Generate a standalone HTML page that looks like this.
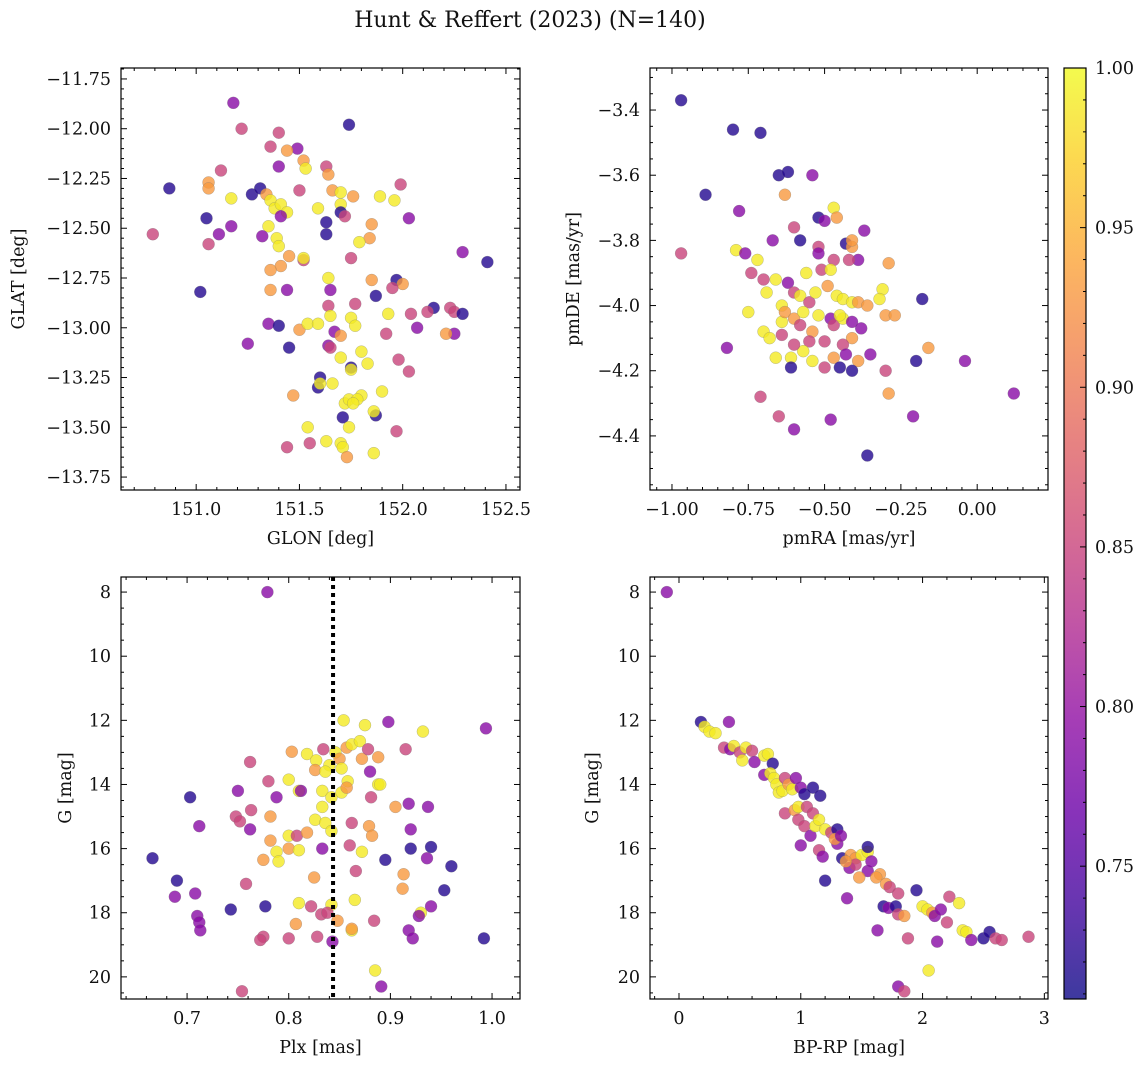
<!DOCTYPE html>
<html><head><meta charset="utf-8"><style>
body{margin:0;background:#fff;}
svg text{font-family:"DejaVu Serif","Liberation Serif",serif;fill:#111;}
</style></head><body>
<svg id="fig" width="1148" height="1067" xmlns="http://www.w3.org/2000/svg">
<defs><linearGradient id="cbg" x1="0" y1="1" x2="0" y2="0"></linearGradient></defs>
<text x="530" y="27" font-size="22" text-anchor="middle">Hunt &amp; Reffert (2023) (N=140)</text>
</svg>
<script>
// Panel data arrays
const p1_glon=[151.18,151.22,151.74,151.40,151.36,151.49,151.44,151.52,151.53,151.40,151.12,151.63,151.64,151.99,150.87,151.06,151.06,151.27,151.31,151.34,151.17,151.36,151.38,151.41,151.44,151.41,151.50,151.66,151.70,151.76,151.89,151.96,151.70,151.59,151.70,151.72,151.63,151.05,151.11,151.17,151.35,151.39,151.40,151.32,151.06,150.79,151.85,151.84,151.79,151.63,152.03,151.45,151.52,151.52,151.41,151.36,151.64,151.75,151.85,151.97,152.00,152.41,152.29,151.36,151.44,151.02,151.65,151.77,151.87,151.95,151.93,152.04,152.15,152.23,152.25,152.29,152.12,151.64,151.65,151.75,151.35,151.50,151.54,151.59,151.40,151.67,151.77,151.92,151.70,152.07,152.25,152.21,151.25,151.64,151.65,151.45,151.80,151.70,151.98,151.83,151.75,151.75,152.03,151.60,151.59,151.60,151.66,151.47,151.90,151.80,151.72,151.74,151.78,151.71,151.87,151.86,151.76,151.74,151.54,151.97,151.44,151.55,151.63,151.70,151.71,151.73,151.86];
const p1_glat=[-11.87,-12.00,-11.98,-12.02,-12.09,-12.10,-12.11,-12.16,-12.20,-12.19,-12.21,-12.19,-12.23,-12.28,-12.30,-12.27,-12.30,-12.33,-12.30,-12.33,-12.35,-12.36,-12.40,-12.38,-12.42,-12.44,-12.31,-12.31,-12.32,-12.34,-12.34,-12.36,-12.38,-12.40,-12.42,-12.44,-12.47,-12.45,-12.53,-12.49,-12.49,-12.55,-12.59,-12.54,-12.58,-12.53,-12.48,-12.55,-12.57,-12.53,-12.45,-12.64,-12.66,-12.65,-12.69,-12.71,-12.75,-12.65,-12.76,-12.76,-12.78,-12.67,-12.62,-12.81,-12.81,-12.82,-12.81,-12.88,-12.84,-12.80,-12.93,-12.93,-12.90,-12.90,-12.92,-12.93,-12.92,-12.89,-12.94,-12.95,-12.98,-13.01,-12.98,-12.98,-12.99,-13.02,-12.99,-13.03,-13.04,-13.00,-13.03,-13.03,-13.08,-13.09,-13.10,-13.10,-13.12,-13.15,-13.16,-13.18,-13.20,-13.21,-13.22,-13.25,-13.30,-13.28,-13.28,-13.34,-13.32,-13.34,-13.38,-13.36,-13.36,-13.45,-13.44,-13.42,-13.38,-13.50,-13.50,-13.52,-13.60,-13.58,-13.57,-13.58,-13.60,-13.65,-13.63];
const p1_prob=[0.79,0.85,0.72,0.85,0.85,0.79,0.93,0.93,0.99,0.79,0.85,0.85,0.93,0.85,0.72,0.93,0.93,0.72,0.72,0.93,0.99,0.99,0.99,0.99,0.99,0.79,0.85,0.93,0.99,0.93,0.99,0.99,0.99,0.99,0.72,0.85,0.72,0.72,0.79,0.79,0.99,0.99,0.99,0.79,0.85,0.85,0.93,0.93,0.99,0.72,0.79,0.93,0.85,0.99,0.93,0.93,0.99,0.85,0.93,0.72,0.93,0.72,0.79,0.93,0.79,0.72,0.79,0.85,0.72,0.85,0.99,0.85,0.72,0.85,0.85,0.72,0.85,0.85,0.99,0.99,0.79,0.93,0.99,0.99,0.72,0.79,0.99,0.85,0.93,0.79,0.79,0.93,0.79,0.79,0.85,0.72,0.99,0.99,0.85,0.99,0.72,0.99,0.85,0.72,0.72,0.99,0.99,0.93,0.99,0.99,0.99,0.99,0.99,0.72,0.72,0.99,0.99,0.99,0.99,0.85,0.85,0.85,0.99,0.99,0.99,0.93,0.99];

const p2_pmra=[-0.97,-0.80,-0.71,-0.89,-0.65,-0.62,-0.54,-0.63,-0.78,-0.79,-0.76,-0.97,-0.67,-0.60,-0.58,-0.52,-0.50,-0.47,-0.46,-0.37,-0.43,-0.39,-0.47,-0.42,-0.52,-0.52,-0.51,-0.29,-0.41,-0.41,-0.72,-0.74,-0.70,-0.66,-0.62,-0.60,-0.64,-0.69,-0.56,-0.58,-0.55,-0.53,-0.49,-0.46,-0.44,-0.41,-0.39,-0.36,-0.31,-0.32,-0.18,-0.30,-0.27,-0.75,-0.70,-0.64,-0.63,-0.60,-0.57,-0.58,-0.54,-0.52,-0.48,-0.47,-0.44,-0.41,-0.38,-0.41,-0.44,-0.50,-0.55,-0.57,-0.60,-0.64,-0.68,-0.61,-0.54,-0.47,-0.45,-0.39,-0.43,-0.35,-0.61,-0.50,-0.41,-0.82,-0.20,-0.16,-0.04,-0.30,-0.29,-0.71,-0.65,-0.60,-0.48,-0.21,-0.36,0.12,-0.66,-0.48,-0.45];
const p2_pmde=[-3.37,-3.46,-3.47,-3.66,-3.60,-3.59,-3.60,-3.66,-3.71,-3.83,-3.84,-3.84,-3.80,-3.76,-3.80,-3.73,-3.74,-3.70,-3.73,-3.77,-3.81,-3.86,-3.86,-3.86,-3.82,-3.84,-3.89,-3.87,-3.82,-3.80,-3.86,-3.90,-3.92,-3.92,-3.93,-3.96,-4.00,-3.96,-3.90,-3.97,-3.99,-3.96,-3.94,-3.97,-3.98,-3.99,-3.99,-4.00,-3.95,-3.98,-3.98,-4.03,-4.03,-4.02,-4.08,-4.05,-4.02,-4.04,-4.02,-4.06,-4.08,-4.03,-4.04,-4.06,-4.04,-4.05,-4.07,-4.10,-4.12,-4.11,-4.11,-4.14,-4.12,-4.09,-4.10,-4.16,-4.17,-4.16,-4.19,-4.17,-4.15,-4.15,-4.19,-4.19,-4.20,-4.13,-4.17,-4.13,-4.17,-4.20,-4.27,-4.28,-4.34,-4.38,-4.35,-4.34,-4.46,-4.27,-4.16,-3.89,-4.03];
const p2_prob=[0.72,0.72,0.72,0.72,0.72,0.72,0.79,0.93,0.79,0.99,0.79,0.85,0.79,0.85,0.72,0.72,0.79,0.99,0.93,0.79,0.72,0.79,0.85,0.85,0.85,0.79,0.85,0.93,0.93,0.93,0.99,0.85,0.85,0.99,0.79,0.85,0.99,0.99,0.99,0.99,0.85,0.99,0.93,0.99,0.99,0.99,0.93,0.93,0.99,0.99,0.72,0.93,0.93,0.99,0.99,0.99,0.93,0.93,0.99,0.85,0.93,0.99,0.79,0.85,0.99,0.79,0.79,0.93,0.85,0.85,0.85,0.99,0.85,0.85,0.99,0.99,0.99,0.93,0.72,0.93,0.79,0.79,0.72,0.85,0.72,0.79,0.72,0.93,0.79,0.85,0.93,0.85,0.85,0.79,0.79,0.79,0.72,0.79,0.99,0.99,0.99];

const p3_plx=[0.779,0.994,0.875,0.932,0.898,0.854,0.818,0.762,0.803,0.827,0.834,0.846,0.850,0.857,0.862,0.870,0.872,0.878,0.888,0.915,0.840,0.826,0.836,0.852,0.858,0.880,0.888,0.890,0.833,0.842,0.852,0.810,0.800,0.780,0.750,0.788,0.812,0.857,0.833,0.881,0.905,0.918,0.937,0.703,0.763,0.748,0.752,0.712,0.782,0.826,0.836,0.842,0.862,0.879,0.882,0.920,0.762,0.800,0.782,0.808,0.818,0.860,0.833,0.872,0.895,0.920,0.940,0.936,0.960,0.666,0.775,0.788,0.800,0.810,0.825,0.866,0.913,0.790,0.690,0.708,0.758,0.688,0.710,0.712,0.713,0.743,0.777,0.810,0.822,0.842,0.832,0.838,0.848,0.865,0.884,0.912,0.930,0.928,0.940,0.953,0.918,0.922,0.807,0.862,0.862,0.800,0.775,0.772,0.828,0.843,0.992,0.885,0.891,0.754];
const p3_g=[8.0,12.25,12.15,12.35,12.05,12.0,13.05,13.30,12.98,13.25,12.9,13.0,13.2,12.85,12.75,12.65,13.2,12.9,13.15,12.9,13.4,13.55,13.6,13.5,13.9,13.6,14.0,14.0,14.2,14.4,14.25,14.2,13.85,13.9,14.2,14.4,14.2,14.1,14.7,14.4,14.7,14.6,14.7,14.4,14.8,15.0,15.15,15.3,15.0,15.1,15.2,15.45,15.2,15.3,15.6,15.4,15.4,15.6,15.75,15.6,15.5,15.9,16.0,16.1,16.35,16.0,15.95,16.3,16.55,16.3,16.35,16.1,16.0,16.05,16.9,16.7,16.8,16.4,17.0,17.4,17.1,17.5,18.1,18.3,18.55,17.9,17.8,17.7,17.8,17.75,18.05,18.0,18.25,17.6,18.25,17.25,18.0,18.1,17.8,17.3,18.55,18.8,18.35,18.55,18.5,18.8,18.75,18.85,18.75,18.9,18.8,19.8,20.3,20.45];
const p3_prob=[0.79,0.79,0.99,0.99,0.79,0.99,0.99,0.85,0.93,0.99,0.85,0.99,0.93,0.93,0.99,0.99,0.93,0.85,0.93,0.85,0.99,0.93,0.99,0.99,0.99,0.79,0.99,0.99,0.99,0.99,0.99,0.99,0.99,0.85,0.79,0.79,0.79,0.93,0.99,0.85,0.93,0.79,0.79,0.72,0.85,0.85,0.85,0.79,0.93,0.99,0.99,0.99,0.85,0.93,0.93,0.79,0.79,0.99,0.93,0.85,0.93,0.85,0.79,0.99,0.72,0.72,0.72,0.79,0.72,0.72,0.93,0.99,0.93,0.99,0.93,0.85,0.93,0.99,0.72,0.79,0.85,0.79,0.79,0.79,0.79,0.72,0.72,0.99,0.85,0.99,0.85,0.85,0.93,0.99,0.85,0.93,0.99,0.79,0.79,0.72,0.79,0.79,0.93,0.99,0.93,0.85,0.85,0.85,0.85,0.79,0.72,0.99,0.79,0.85];

const p4_bprp=[-0.10,0.18,0.21,0.25,0.30,0.41,0.37,0.42,0.45,0.50,0.52,0.55,0.60,0.62,0.70,0.73,0.77,0.70,0.75,0.78,0.80,0.82,0.85,0.87,0.90,0.93,0.96,1.00,1.03,1.10,1.16,0.87,0.95,0.98,1.05,1.10,0.98,1.03,1.08,1.12,1.15,1.20,1.25,1.30,1.00,1.15,1.18,1.30,1.34,1.41,1.45,1.50,1.55,1.55,1.40,1.45,1.55,1.65,1.62,1.70,1.73,1.80,1.68,1.72,1.78,1.63,1.80,1.95,2.00,2.04,2.08,2.10,2.15,2.20,2.22,2.30,2.33,2.36,2.40,2.50,2.55,2.60,2.65,2.87,2.12,1.85,1.88,2.05,1.80,1.85,1.38,1.20,1.37,1.58,1.48,1.28,1.33];
const p4_g=[8.0,12.05,12.2,12.35,12.4,12.05,12.85,12.9,12.8,13.0,13.25,12.85,12.95,13.3,13.1,13.05,13.35,13.7,13.65,13.8,14.0,14.25,14.2,13.8,14.0,14.15,13.8,14.1,14.3,14.1,14.35,14.9,14.8,14.7,14.7,14.9,15.1,15.3,15.6,15.3,15.1,15.4,15.5,15.4,15.9,16.05,16.25,15.85,16.3,16.2,16.3,16.2,16.1,15.95,16.6,16.5,16.7,16.8,16.9,17.1,17.2,17.4,17.8,17.85,17.8,18.55,18.05,17.3,17.8,17.9,18.0,18.1,17.9,18.3,17.5,17.7,18.55,18.6,18.85,18.8,18.6,18.8,18.85,18.75,18.9,18.1,18.8,19.8,20.3,20.45,17.55,17.0,16.4,16.4,16.9,15.7,15.6];
const p4_prob=[0.79,0.72,0.99,0.99,0.99,0.79,0.85,0.79,0.99,0.85,0.99,0.99,0.85,0.79,0.99,0.99,0.72,0.79,0.99,0.99,0.99,0.99,0.99,0.85,0.93,0.99,0.79,0.79,0.72,0.72,0.72,0.85,0.93,0.99,0.85,0.85,0.85,0.85,0.79,0.99,0.99,0.99,0.85,0.72,0.79,0.85,0.79,0.79,0.72,0.93,0.93,0.99,0.99,0.72,0.79,0.85,0.79,0.93,0.93,0.93,0.85,0.85,0.72,0.79,0.72,0.79,0.85,0.72,0.99,0.99,0.93,0.79,0.79,0.85,0.85,0.99,0.99,0.99,0.79,0.72,0.72,0.85,0.85,0.85,0.79,0.93,0.85,0.99,0.79,0.85,0.79,0.72,0.93,0.79,0.93,0.93,0.79];

const cbTicks=[0.75,0.80,0.85,0.90,0.95,1.00];
const vmin=0.7084, vmax=1.0;
const plasma=["#0d0887","#41049d","#6a00a8","#8f0da4","#b12a90","#cc4778","#e16462","#f2844b","#fca636","#fcce25","#f0f921"];
function hex(h){return [parseInt(h.slice(1,3),16),parseInt(h.slice(3,5),16),parseInt(h.slice(5,7),16)];}
function cmap(t){t=Math.max(0,Math.min(1,t));const f=t*10,i=Math.min(9,Math.floor(f)),u=f-i;const a=hex(plasma[i]),b=hex(plasma[i+1]);return `rgb(${a.map((v,k)=>Math.round(v+(b[k]-v)*u)).join(",")})`;}
const NS="http://www.w3.org/2000/svg";
const svg=document.getElementById('fig');
function mk(tag,attrs,parent){const e=document.createElementNS(NS,tag);for(const k in attrs)e.setAttribute(k,attrs[k]);(parent||svg).appendChild(e);return e;}
function fmt(v,d){let s=v.toFixed(d);return s.replace('-','\u2212');}
const TFS=17.5, LFS=17.5;

function panel(cfg){
  const {L,R,T,B,x0,x1,y0,y1,xs,ys,ps,name}=cfg;
  const g=mk('g',{});
  
  
  const X=v=>L+(v-x0)/(x1-x0)*(R-L);
  const Y=v=>B-(v-y0)/(y1-y0)*(B-T);
  const cl=mk('clipPath',{id:'c'+name},g);mk('rect',{x:L,y:T,width:R-L,height:B-T},cl);
  const pg=mk('g',{'clip-path':'url(#c'+name+')'},g);
  for(let i=0;i<xs.length;i++){
    const c=mk('circle',{cx:X(xs[i]),cy:Y(ys[i]),r:6,fill:cmap((ps[i]-vmin)/(vmax-vmin)),'fill-opacity':0.8,stroke:'#777','stroke-opacity':0.5,'stroke-width':0.5},pg);
    
    
  }
  if(cfg.vline!==undefined){
    const l=mk('line',{x1:X(cfg.vline),x2:X(cfg.vline),y1:T,y2:B,stroke:'#000','stroke-width':4,'stroke-dasharray':'4,4'},pg);
    
    
  }
  const lo=Math.min(x0,x1),hi=Math.max(x0,x1);
  for(let v=Math.ceil(lo/cfg.xmin-1e-6)*cfg.xmin; v<=hi+1e-9; v+=cfg.xmin){
    const px=X(v);const maj=Math.abs(v/cfg.xmaj-Math.round(v/cfg.xmaj))<1e-4;const len=maj?6:3;
    mk('line',{x1:px,x2:px,y1:B,y2:B-len,stroke:'#000','stroke-width':1},g);
    mk('line',{x1:px,x2:px,y1:T,y2:T+len,stroke:'#000','stroke-width':1},g);
    if(maj){const t=mk('text',{x:px,y:B+25,'font-size':TFS,'text-anchor':'middle'},g);t.textContent=fmt(v,cfg.xd);
      }
  }
  const ylo=Math.min(y0,y1),yhi=Math.max(y0,y1);
  for(let v=Math.ceil(ylo/cfg.ymin-1e-6)*cfg.ymin; v<=yhi+1e-9; v+=cfg.ymin){
    const py=Y(v);const maj=Math.abs(v/cfg.ymaj-Math.round(v/cfg.ymaj))<1e-4;const len=maj?6:3;
    mk('line',{x1:L,x2:L+len,y1:py,y2:py,stroke:'#000','stroke-width':1},g);
    mk('line',{x1:R,x2:R-len,y1:py,y2:py,stroke:'#000','stroke-width':1},g);
    if(maj){const t=mk('text',{x:L-10,y:py+6,'font-size':TFS,'text-anchor':'end'},g);t.textContent=fmt(v,cfg.yd);
      }
  }
  mk('rect',{x:L,y:T,width:R-L,height:B-T,fill:'none',stroke:'#000','stroke-width':1.2},g);
  const xl=mk('text',{x:(L+R)/2,y:B+54,'font-size':LFS,'text-anchor':'middle'},g);xl.textContent=cfg.xlabel;
  
  const yl=mk('text',{x:0,y:0,'font-size':LFS,'text-anchor':'middle',transform:`translate(${cfg.ylx},${(T+B)/2}) rotate(-90)`},g);yl.textContent=cfg.ylabel;
  
}
panel({name:'glon-glat',L:121,R:520,T:68,B:490,x0:150.636,x1:152.568,y0:-13.815,y1:-11.695,xs:p1_glon,ys:p1_glat,ps:p1_prob,xmaj:0.5,xmin:0.1,ymaj:0.25,ymin:0.05,xd:1,yd:2,xlabel:'GLON [deg]',ylabel:'GLAT [deg]',ylx:24});
panel({name:'pm',L:650,R:1048,T:68,B:490,x0:-1.072,x1:0.232,y0:-4.566,y1:-3.271,xs:p2_pmra,ys:p2_pmde,ps:p2_prob,xmaj:0.25,xmin:0.05,ymaj:0.2,ymin:0.05,xd:2,yd:1,xlabel:'pmRA [mas/yr]',ylabel:'pmDE [mas/yr]',ylx:579});
panel({name:'plx-g',L:121,R:520,T:577,B:999,x0:0.635,x1:1.0275,y0:20.69,y1:7.53,xs:p3_plx,ys:p3_g,ps:p3_prob,xmaj:0.1,xmin:0.02,ymaj:2,ymin:0.5,xd:1,yd:0,xlabel:'Plx [mas]',ylabel:'G [mag]',ylx:71,vline:0.8436});
panel({name:'cmd',L:650,R:1048,T:577,B:999,x0:-0.238,x1:3.03,y0:20.69,y1:7.53,xs:p4_bprp,ys:p4_g,ps:p4_prob,xmaj:1,xmin:0.2,ymaj:2,ymin:0.5,xd:0,yd:0,xlabel:'BP-RP [mag]',ylabel:'G [mag]',ylx:598});

const cbL=1064,cbR=1086,cbT=68,cbB=999;
const grad=document.getElementById('cbg');
for(let i=0;i<=20;i++){mk('stop',{offset:(i/20),'stop-color':cmap(i/20),'stop-opacity':0.8},grad);}
const cb=mk('rect',{x:cbL,y:cbT,width:cbR-cbL,height:cbB-cbT,fill:'url(#cbg)',stroke:'#000','stroke-width':1.2});


const CY=v=>cbB-(v-vmin)/(vmax-vmin)*(cbB-cbT);
for(let k=71;k<=100;k++){const v=k/100;const py=CY(v);const maj=k%5===0;
  mk('line',{x1:cbR,x2:cbR-(maj?6:3),y1:py,y2:py,stroke:'#000','stroke-width':1});}
cbTicks.forEach(v=>{const t=mk('text',{x:cbR+9,y:CY(v)+6,'font-size':TFS});t.textContent=v.toFixed(2);
  
  });
</script>
</body></html>
